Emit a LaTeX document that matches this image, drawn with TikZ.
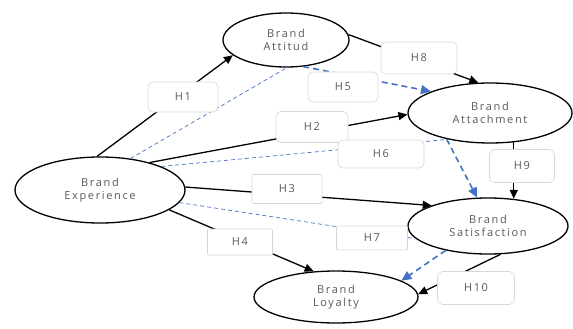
\documentclass[tikz,border=0pt]{standalone}
\usepackage{fontspec}
\setmainfont{Open Sans}[LetterSpace=15]
\usetikzlibrary{shapes.geometric,arrows.meta}
\definecolor{txtgray}{RGB}{89,89,89}
\definecolor{boxgray}{RGB}{215,215,215}
\definecolor{dblue}{RGB}{68,114,196}
\begin{document}
\begin{tikzpicture}[x=1pt,y=-1pt,
  construct/.style={ellipse,draw=black,line width=1.3pt,fill=white,inner sep=0pt,
    align=center,text=txtgray,font=\fontsize{11}{13.5}\selectfont},
  hyp/.style={draw=boxgray,line width=0.6pt,fill=white,rounded corners=5pt,inner sep=0pt,
    text=txtgray,font=\fontsize{11}{13.5}\selectfont},
  hypsq/.style={hyp,rounded corners=1pt},
  solidarrow/.style={line width=1.3pt,-{Triangle[length=9pt,width=8pt]}},
  thindash/.style={dblue,line width=0.7pt,dash pattern=on 4pt off 3pt},
  thickdash/.style={dblue,line width=1.6pt,dash pattern=on 6pt off 4pt,
    -{Triangle[length=10pt,width=9pt]}}]
\useasboundingbox (0,0) rectangle (573,329);
% constructs
\node[construct,minimum width=126pt,minimum height=54pt] (att) at (286,40) {Brand\\Attitud};
\node[construct,minimum width=164pt,minimum height=60pt] (ach) at (490,113) {Brand\\Attachment};
\node[construct,minimum width=170pt,minimum height=66pt] (exp) at (100,190) {Brand\\Experience};
\node[construct,minimum width=160pt,minimum height=56pt] (sat) at (488,226) {Brand\\Satisfaction};
\node[construct,minimum width=164pt,minimum height=52pt] (loy) at (336,297) {Brand\\Loyalty};
% direct paths
\draw[solidarrow] (exp.95) -- (att.196);
\draw[solidarrow] (exp.29) -- (ach.181);
\draw[solidarrow] (exp.2) -- (sat.160);
\draw[solidarrow] (exp.-16) -- (loy.131);
\draw[solidarrow] (att.5) -- (ach.111);
\draw[solidarrow] (ach.-51.4) -- (ach.-51.4 |- sat.47);
\draw[solidarrow] (sat.-66.6) -- (loy.2);
% indirect (thin dashed)
\draw[thindash] (exp.46) -- (att.-88);
\draw[thindash] (exp.21) -- (ach.212);
\draw[thindash] (exp.-9) -- (sat.190);
% mediation (thick dashed)
\draw[thickdash] (att.-57) -- (ach.160);
\draw[thickdash] (ach.211) -- (sat.111.7);
\draw[thickdash] (sat.210) -- (loy.14.8);
% hypothesis labels
\node[hyp,minimum width=70pt,minimum height=30pt] (h1) at (183,97) {H1};
\node[hyp,minimum width=76pt,minimum height=32pt] (h8) at (419,58) {H8};
\node[hyp,minimum width=70pt,minimum height=30pt] (h5) at (343,87) {H5};
\node[hyp,minimum width=72pt,minimum height=31pt] (h2) at (312,127) {H2};
\node[hyp,minimum width=86pt,minimum height=28pt] (h6) at (381,154) {H6};
\node[hyp,minimum width=65pt,minimum height=33pt] (h9) at (522,166) {H9};
\node[hypsq,minimum width=70pt,minimum height=29pt] (h3) at (287,189) {H3};
\node[hypsq,minimum width=65pt,minimum height=26pt] (h4) at (240,242) {H4};
\node[hypsq,minimum width=71pt,minimum height=24pt] (h7) at (372,238) {H7};
\node[hyp,minimum width=77pt,minimum height=33pt] (h10) at (476,288) {H10};
\end{tikzpicture}
\end{document}
